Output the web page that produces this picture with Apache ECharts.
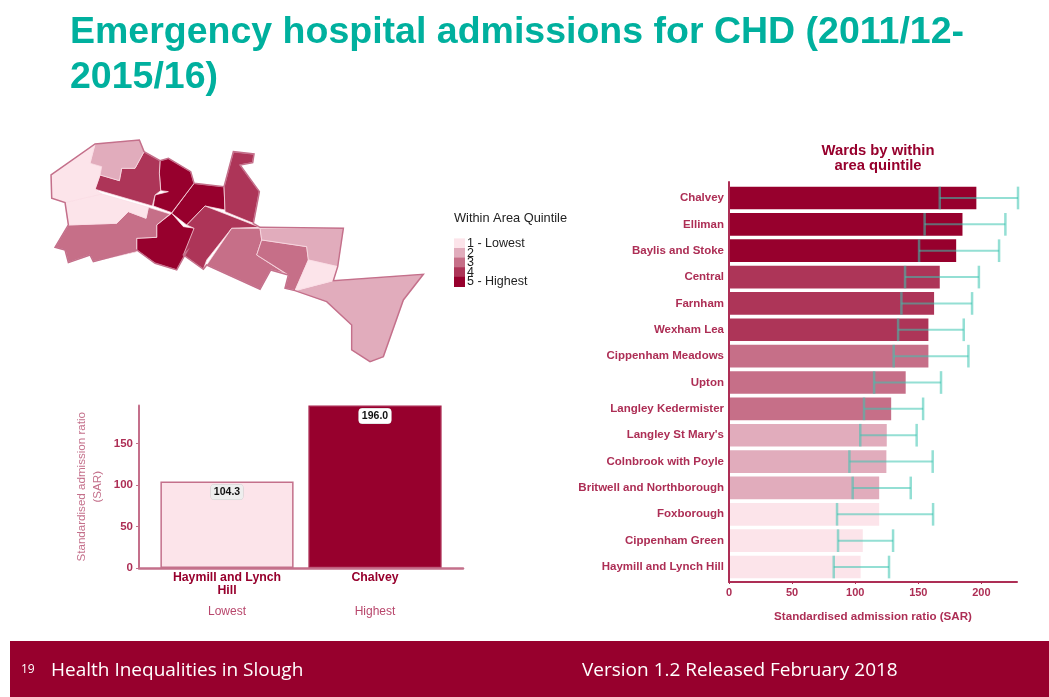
<!DOCTYPE html>
<html><head><meta charset="utf-8">
<script src="https://cdn.jsdelivr.net/npm/echarts@6/dist/echarts.min.js"></script>
<style>html,body{margin:0;padding:0;background:#fff}#c{width:1049px;height:697px}</style>
</head><body><div id="c"></div>
<script>
const wards = ["Chalvey","Elliman","Baylis and Stoke","Central","Farnham","Wexham Lea","Cippenham Meadows","Upton","Langley Kedermister","Langley St Mary's","Colnbrook with Poyle","Britwell and Northborough","Foxborough","Cippenham Green","Haymill and Lynch Hill"];
const sar = [196,185,180,167,162.5,158,158,140,128.5,125,124.7,119,119,106,104.3];
const lowerCI = [167,155,150.6,139.5,136.6,134,130.5,115,107,104,95.4,98,85.6,86.4,83];
const upperCI = [229,219,214,198,192.6,186,189.7,168,153.8,148.7,161.4,144,161.7,130,126.8];
const quintile = [5,5,5,4,4,4,3,3,3,2,2,2,1,1,1];
const quintileColors = ["#fce4ea","#e1acbc","#c66f88","#ad3558","#97002d"];
const quintileLabels = ["1 - Lowest","2","3","4","5 - Highest"];
const compareWards = ["Haymill and Lynch\nHill","Chalvey"];
const compareValues = [104.3,196];
const compareGroups = ["Lowest","Highest"];
const compareColors = ["#fce4ea","#97002d"];
const yTicksLeft = [0,50,100,150];
const xTicksRight = [0,50,100,150,200];
const wardOutlines = {
 "Haymill and Lynch Hill":[[33,135],[165,42],[150,100],[185,110],[180,135],[165,178],[185,192],[75,218],[35,205]],
 "Britwell and Northborough":[[165,42],[298,30],[312,65],[285,115],[245,115],[238,152],[180,135],[150,100]],
 "Farnham":[[180,135],[238,152],[245,115],[285,115],[312,65],[360,92],[358,130],[362,182],[345,195],[337,228],[165,178]],
 "Baylis and Stoke":[[360,92],[385,85],[452,125],[462,160],[395,248],[340,228],[345,195],[385,185],[362,182],[358,130]],
 "Elliman":[[462,160],[552,170],[555,240],[495,228],[440,285],[395,250]],
 "Wexham Lea":[[580,65],[642,72],[638,98],[600,105],[658,185],[640,280],[555,245],[552,170]],
 "Cippenham Green":[[75,218],[185,192],[325,232],[318,265],[265,245],[230,280],[85,285]],
 "Cippenham Meadows":[[85,285],[230,280],[265,245],[318,265],[325,232],[390,252],[350,285],[350,322],[290,325],[290,365],[160,395],[150,375],[85,398],[75,360],[45,352]],
 "Chalvey":[[395,250],[430,290],[465,295],[440,365],[410,420],[345,400],[290,360],[290,325],[350,322],[350,285]],
 "Central":[[495,228],[660,292],[575,295],[500,390],[490,418],[430,375],[462,295],[440,285]],
 "Upton":[[575,295],[660,295],[665,330],[650,375],[735,430],[692,420],[660,478],[500,405]],
 "Langley St Mary's":[[660,295],[910,295],[893,410],[805,390],[800,350],[665,330]],
 "Langley Kedermister":[[665,330],[800,350],[805,390],[765,482],[735,475],[745,435],[650,375]],
 "Foxborough":[[805,390],[893,410],[880,452],[765,482]],
 "Colnbrook with Poyle":[[880,452],[1150,433],[1090,510],[1030,680],[990,695],[935,660],[935,585],[860,515],[765,482]]
};
const boroughOutline = [[33,135],[165,42],[298,30],[312,65],[360,92],[385,85],[452,125],[462,160],[552,170],[580,65],[642,72],[638,98],[600,105],[658,185],[640,280],[660,292],[910,295],[893,410],[880,452],[1150,433],[1090,510],[1030,680],[990,695],[935,660],[935,585],[860,515],[765,482],[735,475],[745,435],[692,420],[660,478],[500,405],[490,418],[430,375],[440,365],[410,420],[345,400],[290,360],[160,395],[150,375],[85,398],[75,360],[45,352],[85,285],[75,218],[35,205]];

const dark="#97002d", mid="#ad2e55", soft="#c4708b";
const sans="'Liberation Sans',Arial,sans-serif", foot="'Open Sans',sans-serif";
const polygon=(name,ring)=>({type:'Feature',properties:{name},geometry:{type:'Polygon',coordinates:[ring.map(p=>[p[0],-p[1]])]}});
echarts.registerMap('slough',{type:'FeatureCollection',features:wards.map(n=>polygon(n,wardOutlines[n])).concat([polygon('Slough',boroughOutline)])});

const chart=echarts.init(document.getElementById('c'),null,{renderer:'canvas'});
const onlyLine=(color,width)=>({show:true,onZero:false,lineStyle:{color,width}});
chart.setOption({
 animation:false,
 title:[
  {text:"Emergency hospital admissions for CHD (2011/12-\n2015/16)",left:65,top:5,textStyle:{fontFamily:sans,fontWeight:'bold',fontSize:37.5,lineHeight:45,color:'#00b09e'}},
  {text:"Wards by within\narea quintile",left:873,top:138,textAlign:'center',textStyle:{fontFamily:sans,fontWeight:'bold',fontSize:14.8,lineHeight:15,color:dark}},
  {text:"Within Area Quintile",left:449,top:207,textStyle:{fontFamily:sans,fontWeight:'normal',fontSize:12.8,color:'#222'}}
 ],
 grid:[
  {left:139,top:405.5,width:324,height:162.5},
  {left:153,top:405.5,width:296,height:162.5},
  {left:729,top:182,width:288,height:400},
  {left:729,top:184.8,width:288,height:395.4}
 ],
 xAxis:[
  {gridIndex:0,type:'value',min:0,max:1,z:5,splitLine:{show:false},axisTick:{show:false},axisLabel:{show:false},axisLine:onlyLine(soft,2.5)},
  {gridIndex:1,type:'category',data:compareWards,axisLine:{show:false},axisTick:{show:false},
   axisLabel:{color:dark,fontFamily:sans,fontWeight:'bold',fontSize:12.3,lineHeight:13,margin:3,interval:0}},
  {gridIndex:1,type:'category',data:compareGroups,position:'bottom',offset:38,axisLine:{show:false},axisTick:{show:false},
   axisLabel:{color:'#b8476c',fontFamily:sans,fontSize:12,margin:0,interval:0}},
  {gridIndex:2,type:'value',min:0,max:228.2,interval:50,z:5,splitLine:{show:false},axisLine:onlyLine(mid,2),
   axisTick:{customValues:xTicksRight,length:2,lineStyle:{color:mid}},axisLabel:{customValues:xTicksRight,color:mid,fontFamily:sans,fontWeight:'bold',fontSize:11,margin:5},
   name:"Standardised admission ratio (SAR)",nameLocation:'middle',nameGap:29,
   nameTextStyle:{color:mid,fontFamily:sans,fontWeight:'bold',fontSize:11.6}},
  {gridIndex:3,type:'value',min:0,max:228.2,show:false}
 ],
 yAxis:[
  {gridIndex:0,type:'value',min:0,max:196,z:5,splitLine:{show:false},axisLine:onlyLine(soft,2),
   axisTick:{customValues:yTicksLeft,length:3,lineStyle:{color:soft}},
   axisLabel:{customValues:yTicksLeft,color:mid,fontFamily:sans,fontWeight:'bold',fontSize:11.5,margin:6},
   name:"Standardised admission ratio\n(SAR)",nameLocation:'middle',nameGap:33,nameRotate:90,
   nameTextStyle:{color:soft,fontFamily:sans,fontSize:11.6,lineHeight:16}},
  {gridIndex:1,type:'value',min:0,max:196,show:false},
  {gridIndex:2,type:'value',min:0,max:1,z:5,splitLine:{show:false},axisTick:{show:false},axisLabel:{show:false},axisLine:onlyLine(mid,2)},
  {gridIndex:3,type:'category',inverse:true,data:wards,axisLine:{show:false},
   axisTick:{alignWithLabel:true,length:3,lineStyle:{color:mid}},
   axisLabel:{color:mid,fontFamily:sans,fontWeight:'bold',fontSize:11.5,margin:5,interval:0}}
 ],
 visualMap:{type:'piecewise',seriesIndex:0,left:454,top:237,padding:0,inverse:true,align:'left',orient:'vertical',itemSymbol:'rect',itemWidth:11,itemHeight:10.2,itemGap:-3.4,textGap:2,
  selectedMode:false,hoverLink:false,textStyle:{fontFamily:sans,fontSize:12.5,color:'#222'},
  pieces:quintileLabels.map((label,i)=>({value:i+1,label,color:quintileColors[i],symbol:'rect'}))},
 series:[
  {type:'map',map:'slough',silent:true,aspectScale:1,roam:false,layoutCenter:[237.2,250.8],layoutSize:372.3,
   itemStyle:{areaColor:'transparent',borderColor:'rgba(250,220,228,.75)',borderWidth:1},label:{show:false},
   data:wards.map((name,i)=>({name,value:quintile[i]})).concat([{name:'Slough',itemStyle:{areaColor:'transparent',borderColor:'#c4708b',borderWidth:1.5}}])},
  {type:'bar',xAxisIndex:1,yAxisIndex:1,barWidth:'90%',silent:true,z:1,
   data:compareValues.map((v,i)=>({value:v,itemStyle:{color:compareColors[i],borderColor:i?'#a8234d':soft,borderWidth:1.5},
     label:{backgroundColor:i?'#fff':'#eee'}})),
   label:{show:true,position:'insideTop',distance:3,formatter:p=>p.value.toFixed(1),color:'#111',fontFamily:sans,fontWeight:'bold',fontSize:10.5,
     padding:[2,3],borderRadius:3,borderColor:'#ccc',borderWidth:.5}},
  {type:'bar',xAxisIndex:4,yAxisIndex:3,barWidth:'86%',silent:true,z:1,
   data:sar.map((v,i)=>({value:v,itemStyle:{color:quintileColors[quintile[i]-1]}}))},
  {type:'custom',xAxisIndex:4,yAxisIndex:3,silent:true,z:3,
   data:wards.map((w,i)=>[lowerCI[i],upperCI[i],i]),
   encode:{x:[0,1],y:2},
   renderItem(params,api){
    const lo=api.coord([api.value(0),api.value(2)]),hi=api.coord([api.value(1),api.value(2)]);
    const half=api.size([0,1])[1]*0.43;
    const stroke='rgba(60,196,176,.55)';
    return {type:'group',children:[
      {type:'line',shape:{x1:lo[0],y1:lo[1],x2:hi[0],y2:hi[1]},style:{stroke,lineWidth:2}},
      {type:'line',shape:{x1:lo[0],y1:lo[1]-half,x2:lo[0],y2:lo[1]+half},style:{stroke,lineWidth:2.5}},
      {type:'line',shape:{x1:hi[0],y1:hi[1]-half,x2:hi[0],y2:hi[1]+half},style:{stroke,lineWidth:2.5}}
    ]};
   }}
 ],
 graphic:[
  {type:'rect',left:10,top:641,shape:{width:1039,height:56},style:{fill:dark},z:-1},
  {type:'text',left:21,top:664,style:{text:"19",fill:'#fff',font:"12px "+foot}},
  {type:'text',left:51,top:661,style:{text:"Health Inequalities in Slough",fill:'#fff',font:"19px "+foot}},
  {type:'text',left:582,top:661,style:{text:"Version 1.2 Released February 2018",fill:'#fff',font:"19px "+foot}}
 ]
});
</script></body></html>
